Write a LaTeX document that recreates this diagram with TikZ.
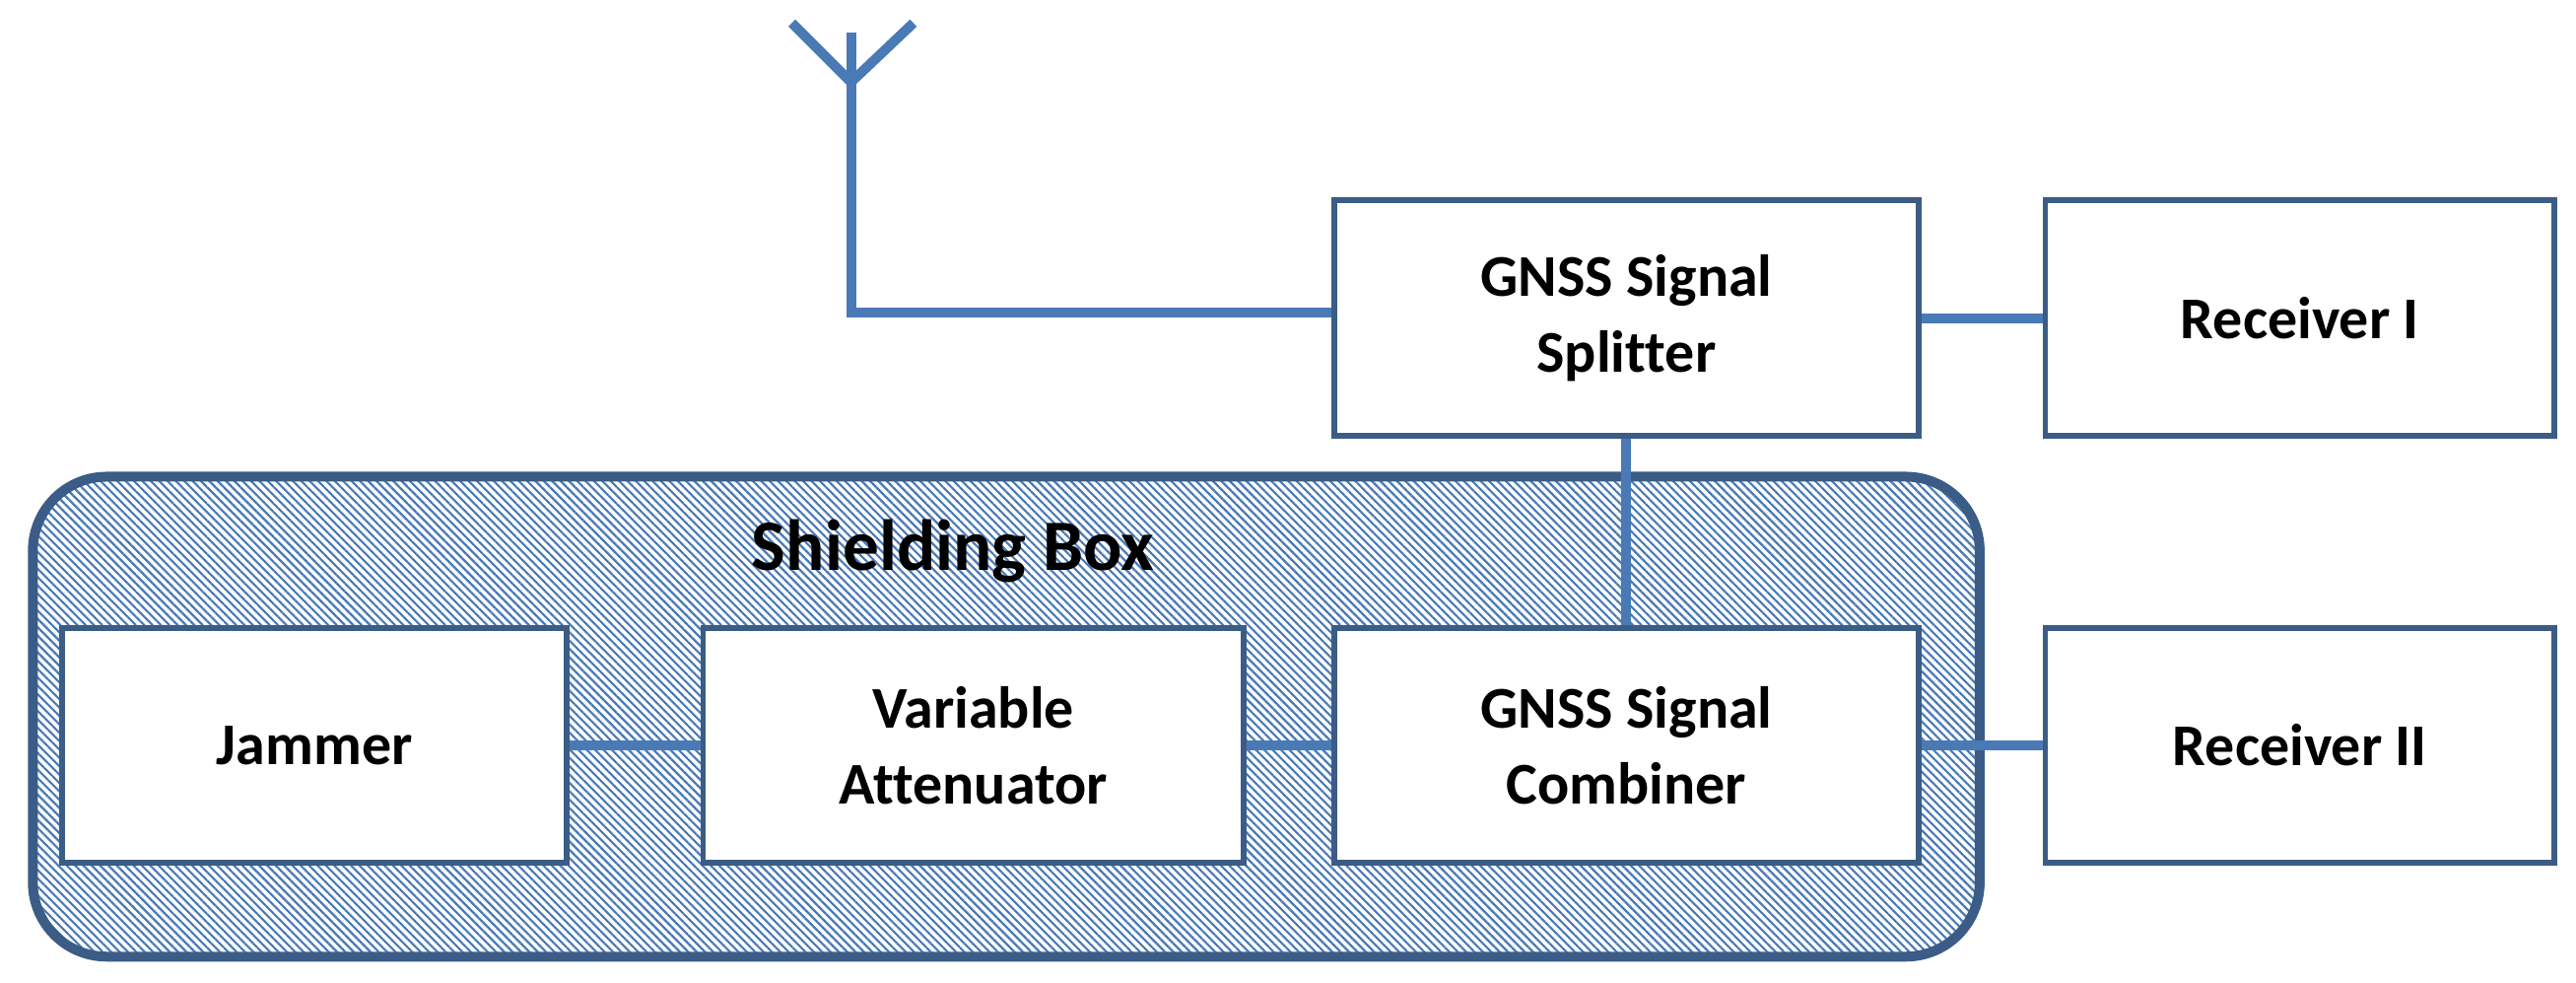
\documentclass[tikz,border=0pt]{standalone}
\usepackage{fontspec}
\setmainfont[Ligatures=NoCommon]{Carlito}
\usetikzlibrary{patterns.meta}
\definecolor{bord}{HTML}{3B5C86}
\definecolor{wire}{HTML}{4A7AB5}
\begin{document}
\begin{tikzpicture}[x=1pt,y=-1pt,
  box/.style={draw=bord,line width=3.5pt,fill=white,align=center,font=\bfseries\fontsize{36}{46}\selectfont,inner sep=0pt},
  con/.style={draw=wire,line width=6pt}]
\useasboundingbox (0,0) rectangle (1568,598);
\draw[draw=bord,line width=6pt,pattern={Lines[angle=-45,distance=3.6pt,line width=1.3pt]},pattern color=wire,rounded corners=45pt] (20,290) rectangle (1205,582);
\node[font=\bfseries\fontsize{44}{50}\selectfont] (sb) at (580,335) {Shielding Box};
\node[box,minimum width=356pt,minimum height=143pt] (sp) at (990,193.5) {GNSS Signal\\Splitter};
\node[box,minimum width=310pt,minimum height=143pt] (r1) at (1400,193.5) {Receiver I};
\node[box,minimum width=307pt,minimum height=143pt] (ja) at (191.5,453.5) {Jammer};
\node[box,minimum width=329pt,minimum height=143pt] (va) at (592.5,453.5) {Variable\\Attenuator};
\node[box,minimum width=356pt,minimum height=143pt] (co) at (990,453.5) {GNSS Signal\\Combiner};
\node[box,minimum width=310pt,minimum height=143pt] (r2) at (1400,453.5) {Receiver II};
\coordinate (ant) at (518,190);
\coordinate (top) at (518,20);
\coordinate (jn) at (518,50);
\coordinate (tl) at (482,14);
\coordinate (tr) at (556,14);
\draw[con] (sp.west |- ant) -- (ant) -- (top);
\draw[con] (tl) -- (jn) -- (tr);
\draw[con] (sp.east) -- (r1.west);
\draw[con] (sp.south) -- (co.north);
\draw[con] (ja.east) -- (va.west);
\draw[con] (va.east) -- (co.west);
\draw[con] (co.east) -- (r2.west);
\end{tikzpicture}
\end{document}
